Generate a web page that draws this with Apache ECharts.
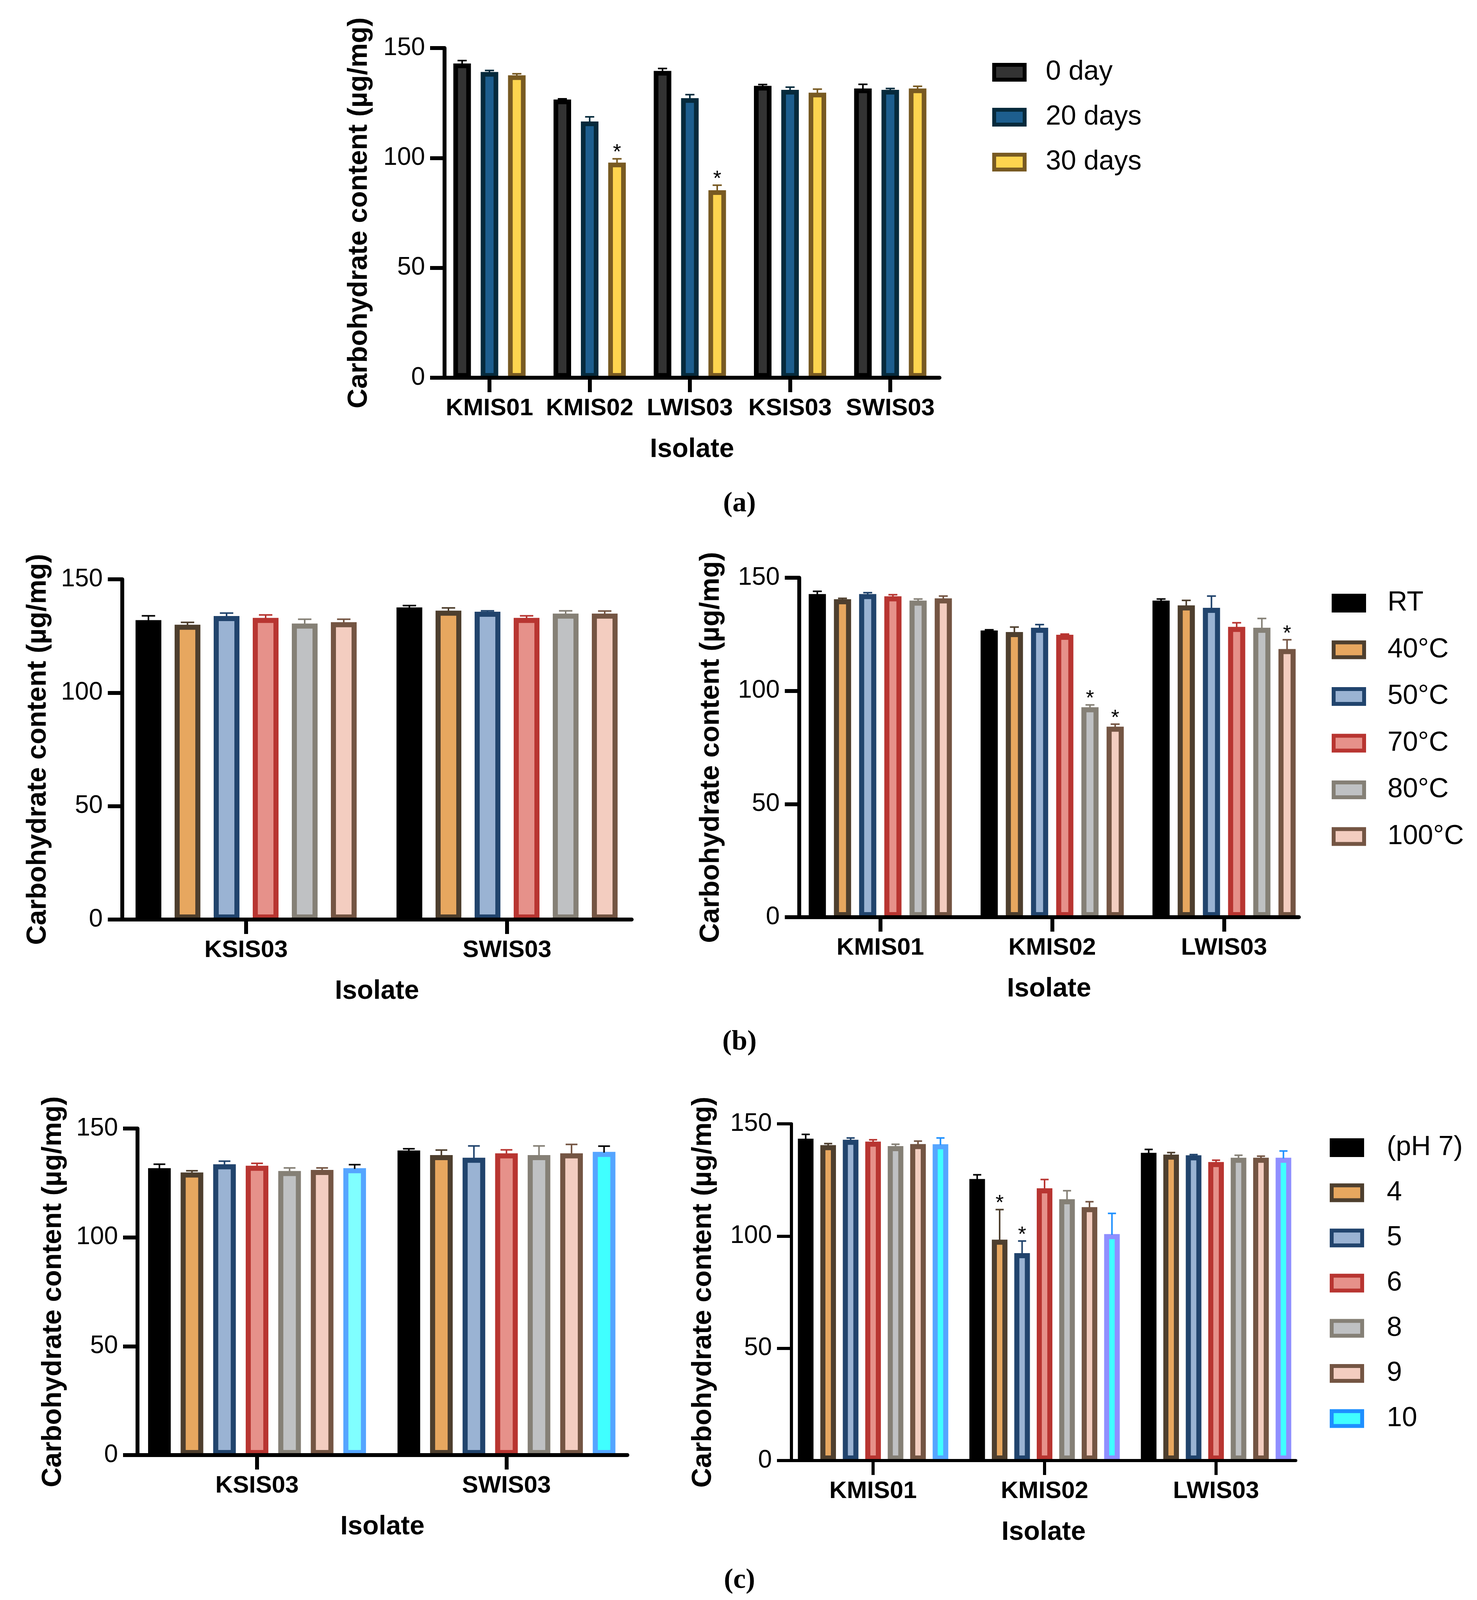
<!DOCTYPE html>
<html>
<head>
<meta charset="utf-8">
<title>Carbohydrate content</title>
<script src="https://cdn.jsdelivr.net/npm/echarts@6/dist/echarts.min.js"></script>
<style>
  html, body { margin: 0; padding: 0; background: #fff; }
  #chart { width: 3781px; height: 4119px; }
</style>
</head>
<body>
<div id="chart"></div>
<script>
// ---- (a) storage time ----
const isolatesA = ['KMIS01', 'KMIS02', 'LWIS03', 'KSIS03', 'SWIS03'];
const storageNames = ['0 day', '20 days', '30 days'];
const storageMean = [
  [143.0, 126.6, 139.6, 132.8, 131.6],
  [139.1, 116.6, 127.2, 131.0, 131.0],
  [137.6, 97.9, 85.3, 129.7, 131.6]
];
const storageErr = [
  [1.3, 0.3, 1.1, 0.6, 1.9],
  [0.7, 2.1, 1.6, 1.2, 0.6],
  [0.7, 1.7, 2.3, 1.6, 1.0]
];
const storageSig = [
  [0, 0, 0, 0, 0],
  [0, 0, 0, 0, 0],
  [0, 1, 1, 0, 0]
];

// ---- (b) temperature ----
const isolatesB1 = ['KSIS03', 'SWIS03'];
const isolatesB2 = ['KMIS01', 'KMIS02', 'LWIS03'];
const tempNames = ['RT', '40°C', '50°C', '70°C', '80°C', '100°C'];
const tempMeanB1 = [
  [132.0, 137.6], [130.0, 136.2], [133.8, 135.7],
  [133.0, 133.0], [130.5, 134.9], [131.1, 134.9]
];
const tempErrB1 = [
  [1.9, 0.8], [1.0, 1.2], [1.3, 0.4],
  [1.3, 0.9], [1.9, 1.2], [1.3, 1.1]
];
const tempMeanB2 = [
  [142.8, 126.7, 139.9], [140.5, 126.0, 137.8], [142.8, 127.9, 136.7],
  [141.8, 124.8, 128.3], [139.9, 92.8, 127.9], [140.9, 84.2, 118.5]
];
const tempErrB2 = [
  [1.2, 0.3, 0.7], [0.4, 2.2, 2.2], [0.6, 1.4, 5.2],
  [0.7, 0.3, 1.8], [0.7, 1.0, 4.1], [1.0, 1.1, 4.1]
];
const tempSigB2 = [
  [0, 0, 0], [0, 0, 0], [0, 0, 0],
  [0, 0, 0], [0, 1, 0], [0, 1, 1]
];

// ---- (c) pH ----
const isolatesC1 = ['KSIS03', 'SWIS03'];
const isolatesC2 = ['KMIS01', 'KMIS02', 'LWIS03'];
const phNames = ['(pH 7)', '4', '5', '6', '8', '9', '10'];
const phMeanC1 = [
  [131.8, 139.9], [129.8, 137.8], [133.6, 136.6], [132.9, 138.6],
  [130.5, 137.8], [131.0, 138.6], [131.8, 139.3]
];
const phErrC1 = [
  [1.8, 0.8], [0.8, 2.3], [1.4, 5.4], [1.1, 1.6],
  [1.4, 4.2], [0.9, 4.1], [1.6, 2.6]
];
const phMeanC2 = [
  [143.4, 125.4, 137.1], [140.5, 98.4, 136.3], [142.9, 92.4, 136.0], [142.1, 121.3, 133.0],
  [140.1, 116.4, 134.9], [141.0, 112.9, 134.9], [140.9, 100.9, 134.9]
];
const phErrC2 = [
  [1.9, 1.9, 1.5], [0.7, 13.4, 0.9], [0.8, 5.4, 0.3], [0.8, 3.9, 0.8],
  [0.8, 3.8, 1.1], [1.3, 2.4, 0.7], [2.8, 9.2, 3.0]
];
const phSigC2 = [
  [0, 0, 0], [0, 1, 0], [0, 1, 0], [0, 0, 0],
  [0, 0, 0], [0, 0, 0], [0, 0, 0]
];

const yTicks = { min: 0, max: 150, interval: 50 };

// ---- colours ----
const storageFill = ['#333333', '#1d5e8e', '#fdd44f'];
const storageBorder = ['#000000', '#062a3c', '#785a22'];
const tempFill = ['#000000', '#e7a75f', '#9ab3d3', '#e6918a', '#bfc1c3', '#f3cdc0'];
const tempBorder = ['#000000', '#4e3f2e', '#21446d', '#b83531', '#858076', '#745543'];
const phFill = tempFill.concat(['#40ffff']);
const phBorder = tempBorder.concat(['#1e8fff']);
// pH 10 bars differ per isolate
const ph10FillC1 = ['#80ffff', '#40ffff'];
const ph10BorderC1 = ['#55a5ff', '#55a5ff'];
const ph10ErrC1 = ['#000000', '#000000'];
const ph10FillC2 = ['#40ffff', '#40ffff', '#40ffff'];
const ph10BorderC2 = ['#55a5ff', '#8f8fff', '#8f8fff'];
const ph10ErrC2 = ['#1e90ff', '#1e90ff', '#1e90ff'];

const FONT = '"Liberation Sans", Arial, sans-serif';

// panel geometry in px: y-axis x, first category x, category step, x-axis end, 150 line, 0 line
const panels = [
  { axisX: 1138, tick0: 1253, step: 256.5, end: 2405, top: 123, bottom: 967, bw: 45, pitch: 70, border: 12, axisW: 10, titleGap: 183 },
  { axisX: 313, tick0: 630, step: 668, end: 1617, top: 1483, bottom: 2354, bw: 66, pitch: 100, border: 13, axisW: 10, titleGap: 180 },
  { axisX: 2046, tick0: 2253.5, step: 440, end: 3325, top: 1479, bottom: 2348, bw: 44, pitch: 64.5, border: 13, axisW: 10, titleGap: 190 },
  { axisX: 352, tick0: 658, step: 638.5, end: 1606, top: 2889, bottom: 3725, bw: 58, pitch: 83.3, border: 13, axisW: 10, titleGap: 180 },
  { axisX: 2026, tick0: 2235, step: 439, end: 3317, top: 2877, bottom: 3739, bw: 40, pitch: 57.5, border: 13, axisW: 8, titleGap: 190 }
];
const panelCats = [isolatesA, isolatesB1, isolatesB2, isolatesC1, isolatesC2];

const grids = [], xAxes = [], yAxes = [], series = [];

panels.forEach(function (p, g) {
  const cats = panelCats[g];
  const n = cats.length;
  const idx = cats.map(function (c, i) { return i; });
  const lastTick = p.tick0 + (n - 1) * p.step;
  grids.push({ left: p.axisX, top: p.top, width: p.end - p.axisX, height: p.bottom - p.top });
  xAxes.push({
    gridIndex: g, type: 'value', z: 10,
    min: -(p.tick0 - p.axisX) / p.step,
    max: (n - 1) + (p.end - lastTick) / p.step,
    splitLine: { show: false },
    axisLine: { onZero: false, lineStyle: { color: '#000', width: p.axisW } },
    axisTick: { customValues: idx, length: 37, lineStyle: { color: '#000', width: p.axisW } },
    axisLabel: {
      customValues: idx, margin: 48, fontSize: 62, fontWeight: 'bold', color: '#000', fontFamily: FONT,
      formatter: function (v) { return cats[Math.round(v)]; }
    },
    name: 'Isolate', nameLocation: 'middle', nameGap: 150,
    nameTextStyle: { fontSize: 68, fontWeight: 'bold', color: '#000', fontFamily: FONT }
  });
  yAxes.push({
    gridIndex: g, type: 'value', min: yTicks.min, max: yTicks.max, interval: yTicks.interval, z: 10,
    axisLine: { show: true, onZero: false, lineStyle: { color: '#000', width: p.axisW } },
    axisTick: { show: true, length: 37, lineStyle: { color: '#000', width: p.axisW } },
    splitLine: { show: false },
    axisLabel: { margin: 50, fontSize: 64, color: '#000', fontFamily: FONT },
    name: 'Carbohydrate content (µg/mg)', nameLocation: 'middle', nameGap: p.titleGap,
    nameTextStyle: { fontSize: 70, fontWeight: 'bold', color: '#000', fontFamily: FONT }
  });
});

function addGroup(g, names, means, errs, sigs, fills, borders, special) {
  const p = panels[g];
  const n = names.length;
  const gapPct = ((p.pitch - p.bw) / p.bw * 100).toFixed(2) + '%';
  const capHalf = 0.26 * p.bw;
  names.forEach(function (name, k) {
    let errColor = borders[k];
    let data = means[k].map(function (v, i) { return [i, v]; });
    if (special && k === n - 1) {
      data = means[k].map(function (v, i) {
        return { value: [i, v], itemStyle: { color: special.fill[i], borderColor: special.border[i] } };
      });
      errColor = special.err;
    }
    series.push({
      type: 'bar', name: name, xAxisIndex: g, yAxisIndex: g, data: data,
      barWidth: p.bw, barGap: gapPct, silent: true,
      itemStyle: { color: fills[k], borderColor: borders[k], borderWidth: p.border }
    });
    const offset = (k - (n - 1) / 2) * p.pitch;
    series.push({
      type: 'custom', name: name + ' err', xAxisIndex: g, yAxisIndex: g, z: 5, silent: true,
      data: means[k].map(function (m, i) { return [i, m, errs[k][i], sigs ? sigs[k][i] : 0]; }),
      renderItem: function (params, api) {
        const i = api.value(0);
        const base = api.coord([i, api.value(1)]);
        const top = api.coord([i, api.value(1) + api.value(2)]);
        const x = base[0] + offset;
        const c = Array.isArray(errColor) ? errColor[params.dataIndex] : errColor;
        const children = [
          { type: 'line', shape: { x1: x, y1: base[1] + 2, x2: x, y2: top[1] }, style: { stroke: c, lineWidth: 4 } },
          { type: 'line', shape: { x1: x - capHalf, y1: top[1], x2: x + capHalf, y2: top[1] }, style: { stroke: c, lineWidth: 4 } }
        ];
        if (api.value(3)) {
          children.push({
            type: 'text',
            style: { text: '*', x: x, y: top[1] + 12, align: 'center', verticalAlign: 'bottom',
                     font: '54px ' + FONT, fill: '#000' }
          });
        }
        return { type: 'group', children: children };
      }
    });
  });
}

addGroup(0, storageNames, storageMean, storageErr, storageSig, storageFill, storageBorder);
addGroup(1, tempNames, tempMeanB1, tempErrB1, null, tempFill, tempBorder);
addGroup(2, tempNames, tempMeanB2, tempErrB2, tempSigB2, tempFill, tempBorder);
addGroup(3, phNames, phMeanC1, phErrC1, null, phFill, phBorder,
  { fill: ph10FillC1, border: ph10BorderC1, err: ph10ErrC1 });
addGroup(4, phNames, phMeanC2, phErrC2, phSigC2, phFill, phBorder,
  { fill: ph10FillC2, border: ph10BorderC2, err: ph10ErrC2 });

function legendBox(names, fills, borders, left, top, gap, textPad) {
  return {
    orient: 'vertical', left: left, top: top, itemWidth: 78, itemHeight: 38, itemGap: gap,
    selectedMode: false,
    textStyle: { fontSize: 70, lineHeight: 70, color: '#000', fontFamily: FONT, padding: [0, 0, 0, textPad] },
    data: names.map(function (n, i) {
      return { name: n, icon: 'rect', itemStyle: { color: fills[i], borderColor: borders[i], borderWidth: 10 } };
    })
  };
}

function caption(text, x, y) {
  return {
    type: 'text', x: x, y: y,
    style: { text: text, align: 'center', verticalAlign: 'middle',
             font: 'bold 72px "Liberation Serif", "Times New Roman", serif', fill: '#000' }
  };
}

const option = {
  animation: false,
  backgroundColor: '#ffffff',
  textStyle: { fontFamily: FONT },
  grid: grids,
  xAxis: xAxes,
  yAxis: yAxes,
  legend: [
    legendBox(storageNames, storageFill, storageBorder, 2535, 145, 45, 49),
    legendBox(tempNames, tempFill, tempBorder, 3404, 1504, 49.5, 55),
    legendBox(phNames, phFill, phBorder, 3399, 2898, 45.6, 58)
  ],
  graphic: [
    caption('(a)', 1893, 1290),
    caption('(b)', 1893, 2668),
    caption('(c)', 1893, 4046)
  ],
  series: series
};

const chart = echarts.init(document.getElementById('chart'), null, { width: 3781, height: 4119 });
chart.setOption(option);
</script>
</body>
</html>
